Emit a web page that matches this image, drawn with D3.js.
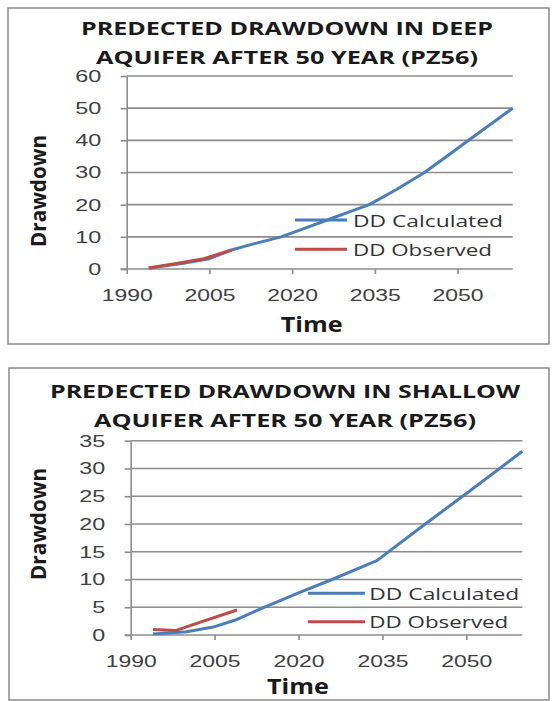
<!DOCTYPE html>
<html lang="en">
<head>
<meta charset="UTF-8">
<title>Predected drawdown (PZ56)</title>
<script src="https://cdnjs.cloudflare.com/ajax/libs/d3/7.8.5/d3.min.js"></script>
<style>
    body { margin: 0; background: #fff; }
    svg { display: block; font-family: "Open Sans", sans-serif; }
    .frame { fill: #fff; stroke: #8a8a8a; stroke-width: 1.5; }
    .grid line { stroke: #8c8c8c; stroke-width: 1.6; }
    .axis path, .axis line { stroke: #8c8c8c; stroke-width: 1.6; }
    .axis text { fill: #404040; font-size: 17px; }
    .title { font-weight: bold; font-size: 18.6px; fill: #1a1a1a; }
    .axis-title { font-weight: bold; font-size: 21px; fill: #1a1a1a; }
    .legend text { font-size: 17px; fill: #333; }
    .series { fill: none; stroke-width: 3; stroke-linejoin: round; }
</style>
</head>
<body>
<svg width="557" height="701"></svg>
<script>
// tick labels
var yearTicks = [1990, 2005, 2020, 2035, 2050];
var deepTicks = [0, 10, 20, 30, 40, 50, 60];
var shallowTicks = [0, 5, 10, 15, 20, 25, 30, 35];

var seriesNames = ["DD Calculated", "DD Observed"];
var seriesColors = ["#4a7ebb", "#be4b48"];

// deep aquifer
var deepCalcYears = [1994, 2000, 2005, 2009, 2013, 2018, 2022, 2026, 2030, 2034, 2039, 2044, 2048, 2052, 2056, 2060];
var deepCalc      = [0.3, 1.7, 3.2, 5.9, 7.8, 10, 12.5, 15, 17.5, 20, 24.8, 30, 35, 40, 45, 50];
var deepObsYears  = [1994, 1999, 2004, 2009];
var deepObs       = [0.3, 1.7, 3.2, 5.9];

// shallow aquifer
var shallowCalcYears = [1994, 2000, 2005, 2009, 2013, 2020, 2026, 2034, 2042, 2050, 2060];
var shallowCalc      = [0.2, 0.6, 1.5, 2.8, 4.6, 7.6, 10, 13.4, 19.5, 25.5, 33.1];
var shallowObsYears  = [1994, 1998, 2003, 2009];
var shallowObs       = [1.0, 0.8, 2.5, 4.5];

var svg = d3.select("svg");

function fit(sel, w) {
    sel.attr("textLength", w).attr("lengthAdjust", "spacingAndGlyphs");
}

function zip(xs, ys) {
    return xs.map(function(x, i) { return {x: x, y: ys[i]}; });
}

function drawChart(c) {
    svg.append("rect").attr("class", "frame")
        .attr("x", c.frame[0]).attr("y", c.frame[1])
        .attr("width", c.frame[2] - c.frame[0]).attr("height", c.frame[3] - c.frame[1]);

    var x = d3.scaleLinear().domain([1990, 2060]).range([c.left, c.right]);
    var y = d3.scaleLinear().domain([0, c.ticks[c.ticks.length - 1]]).range([c.bottom, c.top]);

    // title
    c.titles.forEach(function(t, i) {
        svg.append("text").attr("class", "title")
            .attr("x", c.titleX).attr("y", c.titleY[i])
            .attr("text-anchor", "middle")
            .text(t)
            .call(fit, c.titleW[i]);
    });

    // gridlines
    svg.append("g").attr("class", "grid")
        .selectAll("line")
        .data(c.ticks.slice(1))
        .enter().append("line")
        .attr("x1", c.left).attr("x2", c.right)
        .attr("y1", function(d) { return y(d); })
        .attr("y2", function(d) { return y(d); });

    var gy = svg.append("g").attr("class", "axis")
        .attr("transform", "translate(" + c.left + ",0)")
        .call(d3.axisLeft(y).tickValues(c.ticks).tickSize(6).tickSizeOuter(0).tickPadding(19.5));
    gy.selectAll(".tick text").each(function(d) {
        d3.select(this).call(fit, String(d).length * 13);
    });

    var gx = svg.append("g").attr("class", "axis")
        .attr("transform", "translate(0," + c.bottom + ")")
        .call(d3.axisBottom(x).tickValues(yearTicks).tickSize(5).tickSizeOuter(0).tickPadding(14.5)
            .tickFormat(d3.format("d")));
    gx.select(".domain").attr("d", "M" + (c.left - 6) + ",0H" + c.right);
    gx.selectAll(".tick text").call(fit, 51);

    // axis titles
    svg.append("text").attr("class", "axis-title")
        .attr("transform", "translate(46," + c.yTitleY + ") rotate(-90)")
        .attr("text-anchor", "middle")
        .text("Drawdown")
        .call(fit, 112);
    svg.append("text").attr("class", "axis-title")
        .attr("x", c.xTitleX).attr("y", c.xTitleY)
        .attr("text-anchor", "middle")
        .text("Time")
        .call(fit, 62);

    // series
    var line = d3.line().x(function(d) { return x(d.x); }).y(function(d) { return y(d.y); });
    c.series.forEach(function(s, i) {
        svg.append("path").attr("class", "series")
            .datum(s)
            .attr("stroke", seriesColors[i])
            .attr("d", line);
    });

    // legend
    var lg = svg.append("g").attr("class", "legend");
    seriesNames.forEach(function(name, i) {
        lg.append("line")
            .attr("x1", c.legX[0]).attr("x2", c.legX[1])
            .attr("y1", c.legY[i]).attr("y2", c.legY[i])
            .attr("stroke", seriesColors[i]).attr("stroke-width", 3);
        lg.append("text")
            .attr("x", c.legX[2]).attr("y", c.legY[i] + 6.5)
            .text(name)
            .call(fit, c.legW[i]);
    });
}

drawChart({
    frame: [8, 8, 549, 344],
    left: 126.7, right: 512.7, top: 76, bottom: 269,
    ticks: deepTicks,
    titles: ["PREDECTED DRAWDOWN IN DEEP", "AQUIFER AFTER 50 YEAR (PZ56)"],
    titleX: 287, titleY: [35, 63.5], titleW: [412, 382],
    yTitleY: 191, xTitleX: 311.7, xTitleY: 332,
    series: [zip(deepCalcYears, deepCalc), zip(deepObsYears, deepObs)],
    legX: [295, 347, 353], legY: [220, 249.3], legW: [150, 139]
});

drawChart({
    frame: [9, 368, 549, 700],
    left: 130.7, right: 522.3, top: 440.7, bottom: 635,
    ticks: shallowTicks,
    titles: ["PREDECTED DRAWDOWN IN SHALLOW", "AQUIFER AFTER 50 YEAR (PZ56)"],
    titleX: 285, titleY: [398.3, 426.7], titleW: [470, 382],
    yTitleY: 524, xTitleX: 298, xTitleY: 694,
    series: [zip(shallowCalcYears, shallowCalc), zip(shallowObsYears, shallowObs)],
    legX: [308, 365, 369.3], legY: [593.3, 621.7], legW: [150, 139]
});
</script>
</body>
</html>
